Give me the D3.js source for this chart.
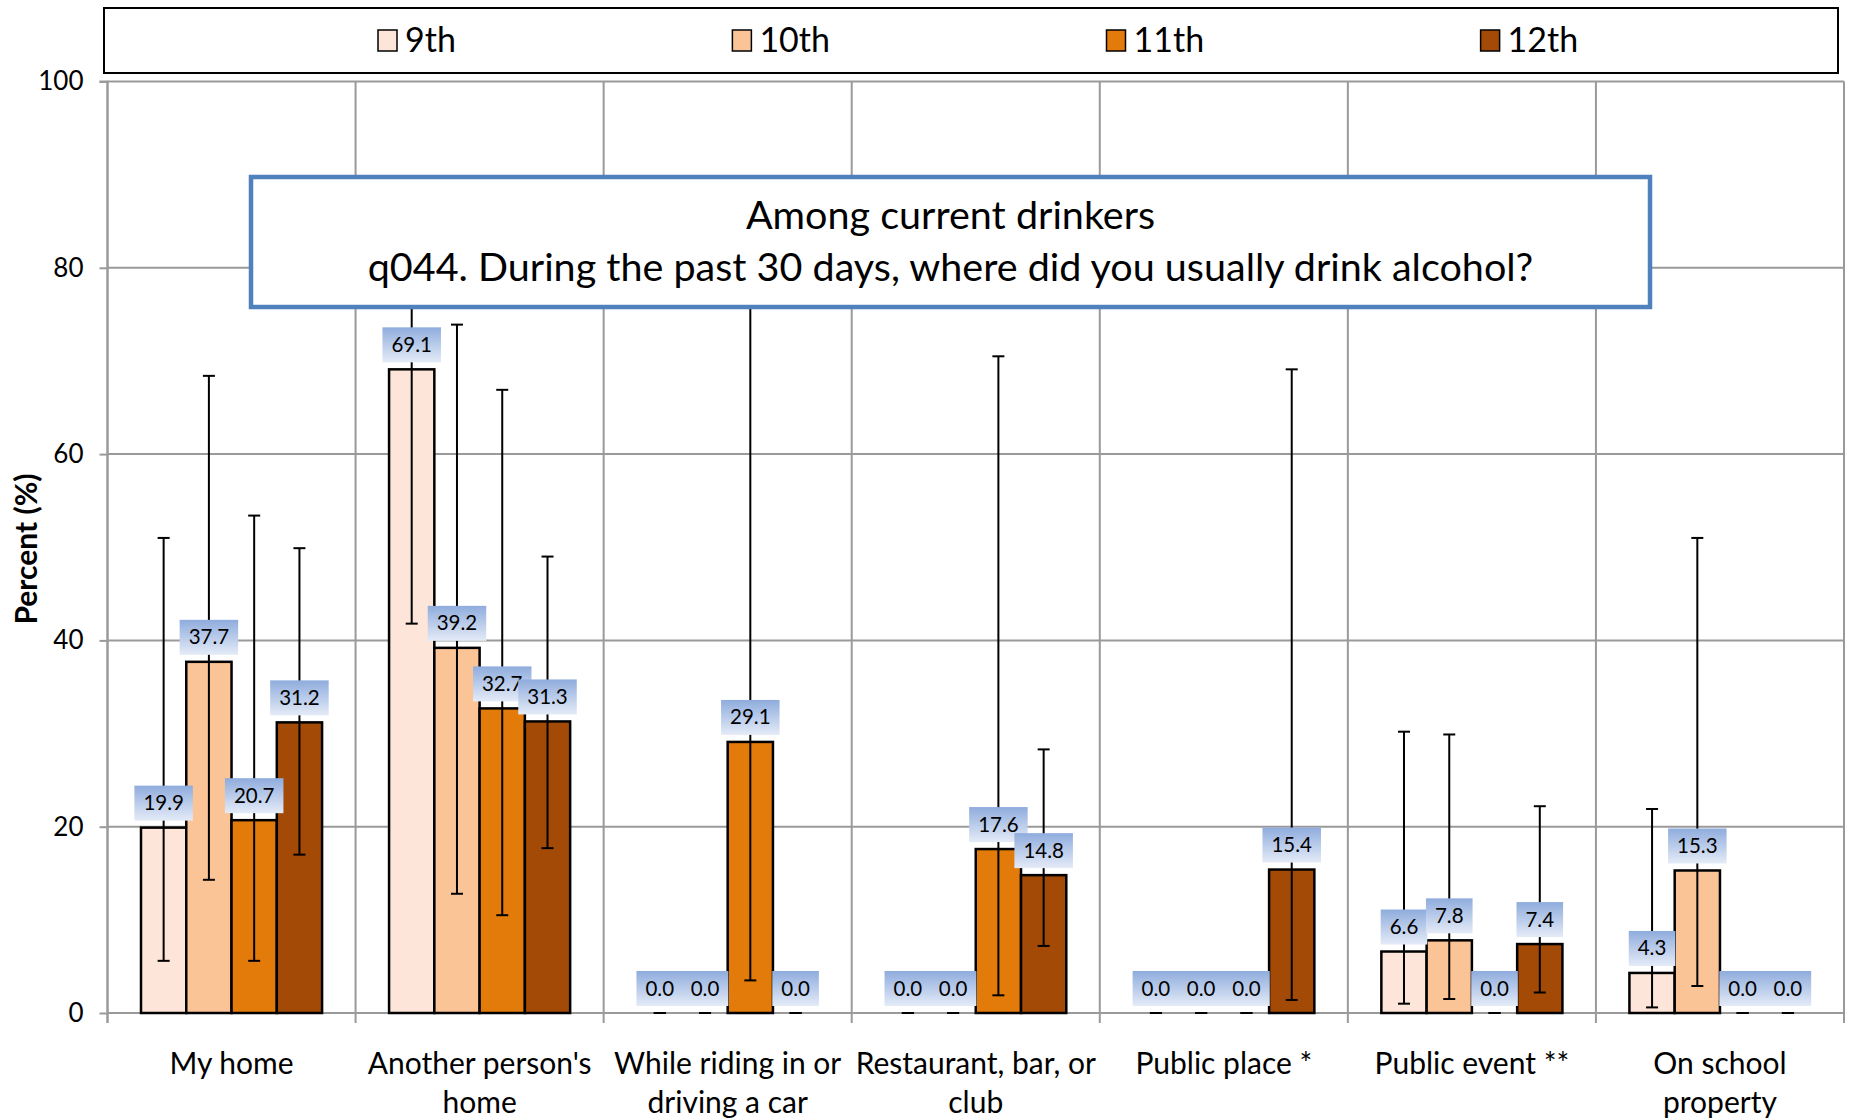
<!DOCTYPE html>
<html><head><meta charset="utf-8">
<script src="https://cdn.jsdelivr.net/npm/d3@7"></script>
<style>
body{margin:0;background:#fff;}
svg{display:block;}
text{font-family:Lato,"Open Sans",sans-serif;fill:#000;}
</style></head><body>
<svg id="chart" width="1851" height="1120"></svg>
<script>
// ---------- data ----------
const categories = ["My home","Another person's\nhome","While riding in or\ndriving a car","Restaurant, bar, or\nclub","Public place *","Public event **","On school\nproperty"];
const grades = ["9th","10th","11th","12th"];
const gradeColors = ["#FDE6D9","#FBC497","#E37B0B","#A34A06"];
const pct9  = [19.9,69.1,0.0,0.0,0.0,6.6,4.3];
const pct10 = [37.7,39.2,0.0,0.0,0.0,7.8,15.3];
const pct11 = [20.7,32.7,29.1,17.6,0.0,0.0,0.0];
const pct12 = [31.2,31.3,0.0,14.8,15.4,7.4,0.0];
const lo9  = [5.6,41.8,0,0,0,1.0,0.6];
const hi9  = [51.0,86.0,0,0,0,30.2,21.9];
const lo10 = [14.3,12.8,0,0,0,1.5,2.9];
const hi10 = [68.4,73.9,0,0,0,29.9,51.0];
const lo11 = [5.6,10.5,3.5,1.9,0,0,0];
const hi11 = [53.4,66.9,84.0,70.5,0,0,0];
const lo12 = [17.0,17.7,0,7.2,1.4,2.2,0];
const hi12 = [49.9,49.0,0,28.3,69.1,22.2,0];
const yTicks = [0,20,40,60,80,100];
const titleLines = ["Among current drinkers","q044. During the past 30 days, where did you usually drink alcohol?"];
const yTitle = "Percent (%)";

const series = [pct9,pct10,pct11,pct12];
const lows = [lo9,lo10,lo11,lo12];
const highs = [hi9,hi10,hi11,hi12];

// ---------- layout ----------
const svg = d3.select("#chart");
const plot = {left:107.5, right:1844, top:81.5, bottom:1013};
const x = d3.scaleBand().domain(categories).range([plot.left, plot.right]).padding(0);
const xg = d3.scaleBand().domain(grades).range([0, x.bandwidth()]).paddingInner(0).paddingOuter(0.74);
const y = d3.scaleLinear().domain([0,100]).range([plot.bottom, plot.top]);

const defs = svg.append("defs");
const grad = defs.append("linearGradient").attr("id","lblgrad").attr("x1",0).attr("y1",0).attr("x2",0).attr("y2",1);
grad.append("stop").attr("offset","0%").attr("stop-color","#8FACDD");
grad.append("stop").attr("offset","100%").attr("stop-color","#E4EBF7");

const gridColor = "#9A9A9A";
// horizontal gridlines
svg.append("g").selectAll("line").data(yTicks).join("line")
  .attr("x1",plot.left).attr("x2",plot.right)
  .attr("y1",d=>y(d)).attr("y2",d=>y(d))
  .attr("stroke",gridColor).attr("stroke-width",2);
// vertical gridlines (category boundaries)
const bounds = categories.map(c=>x(c)).concat([plot.right]);
svg.append("g").selectAll("line").data(bounds).join("line")
  .attr("x1",d=>d).attr("x2",d=>d)
  .attr("y1",plot.top).attr("y2",plot.bottom)
  .attr("stroke",gridColor).attr("stroke-width",2);

// y axis
const yAxis = d3.axisLeft(y).tickValues(yTicks).tickSize(8).tickPadding(16);
const yg = svg.append("g").attr("transform",`translate(${plot.left},0)`).call(yAxis);
yg.select(".domain").attr("stroke",gridColor).attr("stroke-width",2).attr("d",`M-8,${plot.top}H0V${plot.bottom+10}`);
yg.selectAll(".tick line").attr("stroke",gridColor).attr("stroke-width",2);
yg.selectAll(".tick text").attr("font-family","Lato").attr("font-size",26).attr("fill","#000");

// x axis ticks at category boundaries
svg.append("g").selectAll("line").data(bounds).join("line")
  .attr("x1",d=>d).attr("x2",d=>d)
  .attr("y1",plot.bottom).attr("y2",plot.bottom+10)
  .attr("stroke",gridColor).attr("stroke-width",2);

// category labels
const catG = svg.append("g").selectAll("text").data(categories).join("text")
  .attr("text-anchor","middle")
  .attr("font-size",30)
  .attr("x",d=>x(d)+x.bandwidth()/2)
  .attr("y",1074);
catG.selectAll("tspan").data(d=>d.split("\n")).join("tspan")
  .attr("x",function(){return d3.select(this.parentNode).attr("x");})
  .attr("dy",(d,i)=>i===0?0:39)
  .text(d=>d);

// bars
const rows = [];
grades.forEach((g,gi)=>categories.forEach((c,ci)=>rows.push({g,gi,c,v:series[gi][ci],lo:lows[gi][ci],hi:highs[gi][ci]})));
svg.append("g").selectAll("rect").data(rows.filter(r=>r.v>0)).join("rect")
  .attr("x",d=>x(d.c)+xg(d.g))
  .attr("width",xg.bandwidth())
  .attr("y",d=>y(d.v))
  .attr("height",d=>y(0)-y(d.v))
  .attr("fill",d=>gradeColors[d.gi])
  .attr("stroke","#000").attr("stroke-width",2.5);

// error bars
const eb = svg.append("g").attr("stroke","#000").attr("stroke-width",2);
const cx = d=>x(d.c)+xg(d.g)+xg.bandwidth()/2;
eb.selectAll("line.v").data(rows).join("line").attr("class","v")
  .attr("x1",cx).attr("x2",cx).attr("y1",d=>y(d.lo)).attr("y2",d=>y(d.hi));
eb.selectAll("line.lo").data(rows).join("line").attr("class","lo")
  .attr("x1",d=>cx(d)-6).attr("x2",d=>cx(d)+6).attr("y1",d=>y(d.lo)).attr("y2",d=>y(d.lo));
eb.selectAll("line.hi").data(rows).join("line").attr("class","hi")
  .attr("x1",d=>cx(d)-6).attr("x2",d=>cx(d)+6).attr("y1",d=>y(d.hi)).attr("y2",d=>y(d.hi));

// data labels
const lbl = svg.append("g").selectAll("g").data(rows).join("g");
lbl.append("rect").attr("fill","url(#lblgrad)");
lbl.append("text").attr("text-anchor","middle").attr("font-size",20.5).attr("fill","#111")
  .attr("x",cx).attr("y",d=>y(d.v)-7-35/2+7).text(d=>d.v.toFixed(1));
lbl.each(function(d){
  const t = d3.select(this).select("text");
  const w = t.node().getComputedTextLength()+18;
  d3.select(this).select("rect").attr("x",cx(d)-w/2).attr("width",w)
    .attr("y",y(d.v)-7-35).attr("height",35);
});

// title box
const tb = svg.append("g");
tb.append("rect").attr("x",251).attr("y",177).attr("width",1399).attr("height",130)
  .attr("fill","#fff").attr("stroke","#4F81BD").attr("stroke-width",4.5);
tb.selectAll("text").data(titleLines).join("text")
  .attr("x",251+1399/2).attr("y",(d,i)=>229+i*52)
  .attr("text-anchor","middle").attr("font-size",39.5).text(d=>d);

// y-axis title
svg.append("text").attr("transform","translate(37,549) rotate(-90)")
  .attr("text-anchor","middle").attr("font-weight","bold").attr("font-size",30).text(yTitle);

// legend
const lg = svg.append("g");
lg.append("rect").attr("x",104).attr("y",8).attr("width",1734).attr("height",65)
  .attr("fill","#fff").attr("stroke","#000").attr("stroke-width",2);
let lx = 378;
grades.forEach((g,i)=>{
  lg.append("rect").attr("x",lx).attr("y",30).attr("width",19).attr("height",21)
    .attr("fill",gradeColors[i]).attr("stroke","#000").attr("stroke-width",1.5);
  const t = lg.append("text").attr("x",lx+27).attr("y",52).attr("font-size",34).text(g);
  lx += 27 + t.node().getComputedTextLength() + 276.5;
});
</script>
</body></html>
